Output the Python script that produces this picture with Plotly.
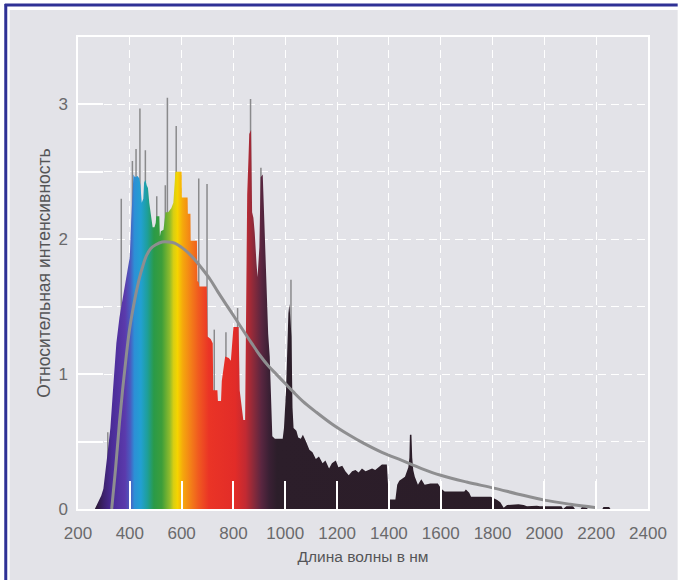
import plotly.graph_objects as go

# ---------------- data ----------------
# Measured spectrum outline: wavelength (nm) and relative intensity
wavelength_nm = [265, 272, 280, 290, 298, 305, 312, 318, 325, 335, 348, 360, 373, 386, 400, 405,
                 411, 414, 420, 430, 437, 441, 446, 452, 455, 460, 465, 470, 475, 480, 488, 495,
                 500, 502, 514, 516, 520, 530, 534, 538, 548, 560, 568, 574, 576, 600, 601, 623,
                 624, 634, 635, 659, 661, 666, 668, 697, 700, 712, 720, 722, 738, 740, 752, 755,
                 762, 768, 782, 790, 800, 820, 824, 832, 838, 845, 850, 853, 858, 861, 868, 872,
                 877, 882, 889, 893, 900, 903, 905, 913, 918, 921, 927, 934, 940, 946, 950, 960,
                 990, 995, 1003, 1008, 1012, 1016, 1024, 1028, 1032, 1043, 1050, 1060, 1068, 1080,
                 1093, 1105, 1118, 1130, 1144, 1155, 1169, 1180, 1195, 1205, 1220, 1232, 1245,
                 1258, 1271, 1283, 1296, 1310, 1321, 1335, 1347, 1360, 1373, 1392, 1396, 1400,
                 1425, 1432, 1440, 1462, 1475, 1479, 1481, 1487, 1490, 1494, 1500, 1512, 1525,
                 1538, 1560, 1589, 1602, 1615, 1650, 1691, 1697, 1710, 1717, 1760, 1793, 1818,
                 1830, 1843, 1856, 1900, 1920, 1933, 1971, 1983, 2066, 2072, 2085, 2111, 2118,
                 2140, 2145, 2160, 2168, 2224, 2228, 2250, 2255]
intensity = [0.0, 0.03, 0.06, 0.10, 0.15, 0.25, 0.38, 0.48, 0.60, 0.88, 1.23, 1.42, 1.57, 1.72, 1.87, 2.12,
             2.46, 2.48, 2.46, 2.47, 2.45, 2.40, 2.27, 2.30, 2.42, 2.44, 2.40, 2.38, 2.27, 2.20, 2.09, 2.09,
             2.12, 2.17, 2.17, 2.02, 2.06, 2.07, 2.15, 2.20, 2.20, 2.23, 2.27, 2.40, 2.50, 2.50, 2.31, 2.31,
             2.19, 2.19, 1.99, 1.99, 1.69, 1.68, 1.65, 1.65, 1.28, 1.26, 1.23, 0.88, 0.88, 0.80, 0.80, 0.95,
             1.05, 1.13, 1.12, 1.10, 1.35, 1.35, 0.88, 0.75, 0.66, 0.66, 1.87, 2.33, 2.60, 2.78, 2.81, 2.20,
             2.16, 2.05, 1.82, 1.72, 1.94, 2.40, 2.46, 2.48, 2.20, 2.00, 1.62, 1.30, 1.13, 0.75, 0.54, 0.52,
             0.52, 0.60, 0.88, 1.20, 1.45, 1.52, 1.28, 0.75, 0.60, 0.58, 0.53, 0.52, 0.55, 0.50,
             0.44, 0.42, 0.37, 0.39, 0.34, 0.36, 0.30, 0.34, 0.36, 0.31, 0.32, 0.28, 0.25,
             0.28, 0.29, 0.27, 0.30, 0.28, 0.29, 0.30, 0.29, 0.31, 0.33, 0.33, 0.20, 0.07,
             0.07, 0.18, 0.21, 0.24, 0.31, 0.38, 0.55, 0.55, 0.38, 0.29, 0.24, 0.18, 0.22,
             0.18, 0.19, 0.19, 0.15, 0.13, 0.13, 0.13, 0.145, 0.12, 0.09, 0.09, 0.09, 0.067,
             0.05, 0.01, 0.03, 0.035, 0.03, 0.02, 0.025, 0.02, 0.02, 0.0, 0.02, 0.02, 0.0,
             0.0, 0.015, 0.015, 0.0, 0.0, 0.015, 0.015, 0.0]

# Narrow emission lines (grey spikes): wavelength and top value
line_nm = [315, 367, 410, 424, 439, 460, 504, 537, 545, 579, 666, 698, 726, 771, 816, 866, 906, 1022]
line_top = [0.57, 2.30, 2.58, 2.67, 2.97, 2.66, 2.32, 2.40, 3.05, 2.84, 2.45, 2.41, 1.33, 1.31, 1.49, 3.04, 2.53, 1.70]

# Smooth reference (daylight-like) curve
curve_nm = [330, 345, 360, 373, 386, 398, 411, 425, 438, 450, 462, 480, 500, 525, 550, 575, 600,
            625, 650, 680, 711, 740, 774, 805, 839, 870, 902, 935, 965, 1000, 1030, 1067, 1118,
            1180, 1245, 1300, 1373, 1450, 1526, 1600, 1700, 1805, 1900, 2000, 2100, 2200]
curve_val = [0.0, 0.30, 0.64, 0.90, 1.13, 1.32, 1.47, 1.61, 1.72, 1.80, 1.87, 1.93, 1.96, 1.98, 1.98,
             1.97, 1.94, 1.90, 1.85, 1.78, 1.70, 1.61, 1.51, 1.42, 1.32, 1.23, 1.14, 1.06, 1.00, 0.93,
             0.87, 0.80, 0.72, 0.63, 0.55, 0.49, 0.42, 0.36, 0.30, 0.25, 0.20, 0.155, 0.11, 0.066,
             0.035, 0.01]

x_tickvals = [200, 400, 600, 800, 1000, 1200, 1400, 1600, 1800, 2000, 2200, 2400]
x_ticktext = ["200", "400", "600", "800", "1000", "1200", "1400", "1600", "1800", "2000", "2200", "2400"]
y_tickvals = [0, 0.5, 1, 1.5, 2, 2.5, 3, 3.5]
y_ticktext = ["0", "", "1", "", "2", "", "3", ""]

x_title = "Длина волны в нм"
y_title = "Относительная интенсивность"

# ---------------- styling ----------------
grad_nm = [265, 300, 330, 380, 400, 415, 440, 465, 490, 520, 550, 565, 580, 600, 630, 660, 700,
           800, 840, 870, 900, 930, 960, 2255]
grad_col = ["#2a1832", "#3d2270", "#4b2c98", "#5b3aac", "#4a5cc0", "#2d8fd6", "#22a0d2", "#1e9f9a",
            "#2a9a48", "#3d9e3a", "#8fbb2c", "#d8cf12", "#f5d400", "#f5a80c", "#f38018", "#f05a20",
            "#ea3426", "#e22c28", "#c22a32", "#8c2a3a", "#5a2640", "#3a2034", "#2c1e2a", "#2a1c27"]
g0, g1 = grad_nm[0], grad_nm[-1]
colorscale = [[(n - g0) / (g1 - g0), c] for n, c in zip(grad_nm, grad_col)]

W, H = 679, 580
ML, MR, MT, MB = 78, 25, 37, 71
PW, PH = W - ML - MR, H - MT - MB


def px_x(p):
    return (p - ML) / PW


def px_y(p):
    return (H - MB - p) / PH


FONT = "Liberation Sans Narrow, Arial Narrow, Liberation Sans, Arial, sans-serif"

fig = go.Figure()

# emission lines (drawn first so the fill hides their lower parts)
sx, sy = [], []
for n, t in zip(line_nm, line_top):
    sx += [n, n, None]
    sy += [0, t, None]
fig.add_trace(go.Scatter(x=sx, y=sy, mode="lines", line=dict(color="#8a8a8c", width=1.5),
                         hoverinfo="skip", showlegend=False))

# spectrum filled with a rainbow gradient
fig.add_trace(go.Scatter(x=wavelength_nm, y=intensity, mode="lines", fill="tozeroy",
                         line=dict(width=0, color="rgba(0,0,0,0)"),
                         fillgradient=dict(type="horizontal", colorscale=colorscale, start=g0, stop=g1),
                         showlegend=False))

# smooth reference curve
fig.add_trace(go.Scatter(x=curve_nm, y=curve_val, mode="lines", line=dict(color="#8e8e90", width=3),
                         line_shape="spline", showlegend=False))

shapes = [
    # grey page background inside the frame
    dict(type="rect", xref="paper", yref="paper", x0=px_x(9), x1=px_x(W + 5), y0=px_y(H + 5), y1=px_y(10),
         fillcolor="#e3e3e8", line=dict(width=0), layer="below"),
    # blue frame (left and top)
    dict(type="line", xref="paper", yref="paper", x0=px_x(5), x1=px_x(5), y0=px_y(4), y1=px_y(H + 5),
         line=dict(color="#2f3195", width=3), layer="above"),
    dict(type="line", xref="paper", yref="paper", x0=px_x(4), x1=px_x(W + 5), y0=px_y(5), y1=px_y(5),
         line=dict(color="#2f3195", width=3), layer="above"),
]

fig.update_layout(
    width=W, height=H,
    margin=dict(l=ML, r=MR, t=MT, b=MB, pad=0),
    paper_bgcolor="white",
    plot_bgcolor="#e3e3e8",
    font=dict(family=FONT, size=17, color="#6a6a6c"),
    shapes=shapes,
    showlegend=False,
)

fig.update_xaxes(
    range=[200, 2400], tickvals=x_tickvals, ticktext=x_ticktext,
    showgrid=True, gridcolor="white", gridwidth=1.3, griddash="8px,5px",
    ticks="inside", ticklen=28, tickcolor="white", tickwidth=1.5,
    showline=True, linecolor="white", linewidth=1.5, mirror=True,
    zeroline=False, ticklabelstandoff=8,
    tickfont=dict(size=17, color="#6a6a6c"),
    title=dict(text=x_title, font=dict(size=15.5, color="#555557"), standoff=9),
)
fig.update_yaxes(
    range=[0, 3.5], tickvals=y_tickvals, ticktext=y_ticktext,
    showgrid=True, gridcolor="white", gridwidth=1.3, griddash="8px,5px",
    ticks="inside", ticklen=25, tickcolor="white", tickwidth=1.5,
    showline=True, linecolor="white", linewidth=1.5, mirror=True,
    zeroline=False, ticklabelstandoff=5,
    tickfont=dict(size=17, color="#6a6a6c"),
    title=dict(text=y_title, font=dict(size=17.5, color="#555557"), standoff=3),
)

fig.write_html("out.html", config={"displayModeBar": False},
               post_script="document.body.style.margin='0px';document.body.style.overflow='hidden';")
